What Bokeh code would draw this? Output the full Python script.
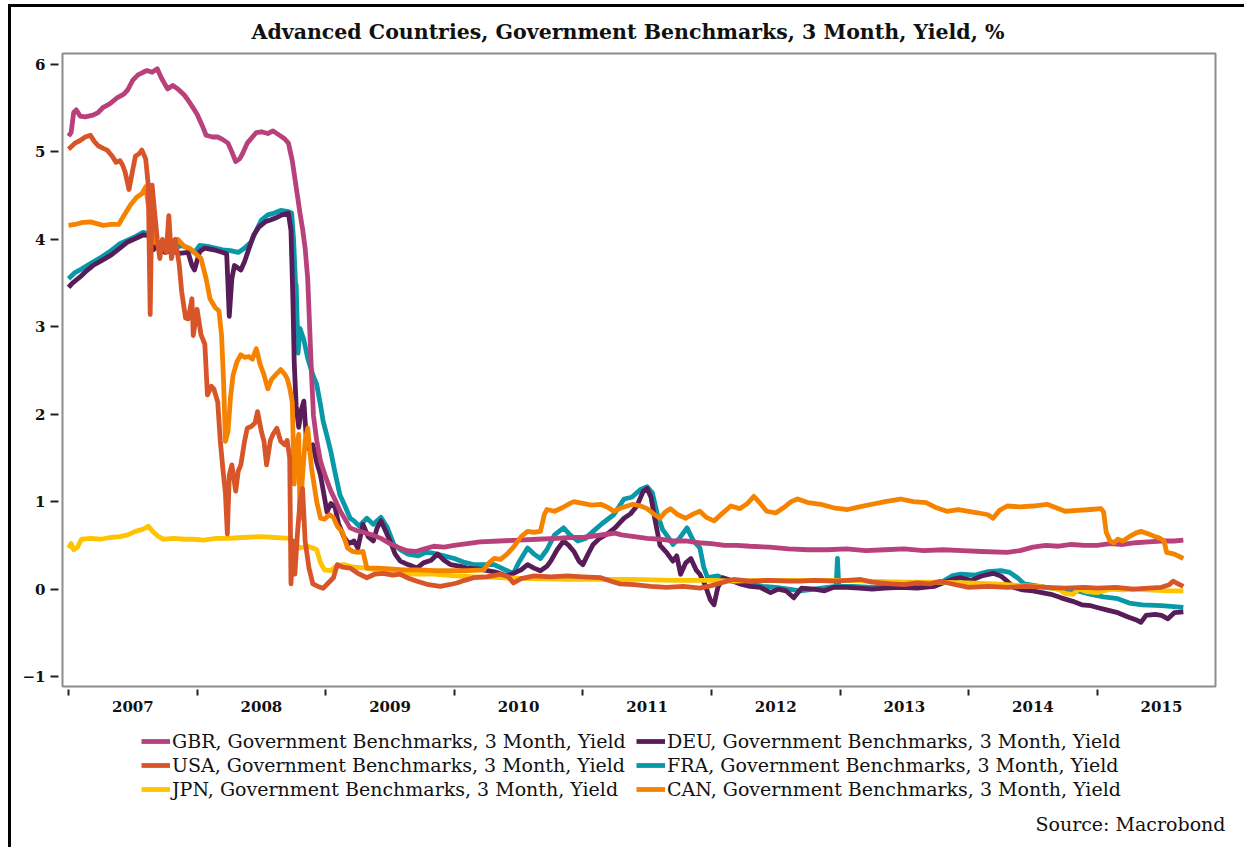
import numpy as np
from bokeh.plotting import figure
from bokeh.layouts import column
from bokeh.models import Range1d, FixedTicker, Legend, LegendItem, Label
from bokeh.embed import file_html
from bokeh.resources import INLINE

# ---------------- data (decimal years, yield %) ----------------
year_ticks = [2007, 2008, 2009, 2010, 2011, 2012, 2013, 2014, 2015]
year_labels = ["2007", "2008", "2009", "2010", "2011", "2012", "2013", "2014", "2015"]
y_ticks = [-1, 0, 1, 2, 3, 4, 5, 6]

gbr_t = [2007.00, 2007.02, 2007.04, 2007.06, 2007.09, 2007.13, 2007.19, 2007.23, 2007.27, 2007.32, 2007.38, 2007.43, 2007.46, 2007.50, 2007.54, 2007.58, 2007.61, 2007.65, 2007.69, 2007.72, 2007.77, 2007.81, 2007.85, 2007.90, 2007.93, 2007.97, 2008.00, 2008.04, 2008.07, 2008.12, 2008.16, 2008.20, 2008.24, 2008.27, 2008.30, 2008.33, 2008.35, 2008.39, 2008.43, 2008.46, 2008.50, 2008.55, 2008.59, 2008.63, 2008.68, 2008.71, 2008.74, 2008.76, 2008.78, 2008.80, 2008.82, 2008.84, 2008.86, 2008.875, 2008.89, 2008.905, 2008.93, 2008.96, 2009.00, 2009.04, 2009.08, 2009.11, 2009.15, 2009.19, 2009.24, 2009.29, 2009.36, 2009.43, 2009.50, 2009.56, 2009.63, 2009.70, 2009.77, 2009.84, 2009.92, 2010.00, 2010.10, 2010.20, 2010.35, 2010.50, 2010.65, 2010.80, 2010.90, 2011.00, 2011.10, 2011.20, 2011.25, 2011.30, 2011.40, 2011.50, 2011.60, 2011.70, 2011.80, 2011.90, 2012.00, 2012.10, 2012.20, 2012.30, 2012.45, 2012.60, 2012.75, 2012.90, 2013.05, 2013.20, 2013.35, 2013.50, 2013.65, 2013.80, 2013.95, 2014.10, 2014.30, 2014.40, 2014.50, 2014.60, 2014.70, 2014.80, 2014.90, 2015.00, 2015.10, 2015.20, 2015.30, 2015.40, 2015.50, 2015.60, 2015.67]
gbr_v = [5.18, 5.22, 5.45, 5.48, 5.41, 5.40, 5.42, 5.45, 5.51, 5.55, 5.62, 5.66, 5.71, 5.82, 5.88, 5.91, 5.93, 5.91, 5.95, 5.85, 5.72, 5.76, 5.72, 5.65, 5.59, 5.50, 5.43, 5.30, 5.19, 5.17, 5.17, 5.14, 5.10, 5.00, 4.89, 4.92, 4.97, 5.10, 5.17, 5.22, 5.23, 5.21, 5.24, 5.20, 5.15, 5.10, 4.90, 4.70, 4.50, 4.30, 4.12, 3.90, 3.55, 3.00, 2.45, 1.98, 1.70, 1.46, 1.28, 1.12, 1.00, 0.90, 0.80, 0.70, 0.67, 0.65, 0.62, 0.58, 0.52, 0.48, 0.44, 0.43, 0.46, 0.49, 0.48, 0.50, 0.52, 0.54, 0.55, 0.56, 0.57, 0.58, 0.59, 0.59, 0.61, 0.63, 0.64, 0.62, 0.60, 0.58, 0.57, 0.55, 0.55, 0.53, 0.52, 0.50, 0.50, 0.49, 0.48, 0.46, 0.45, 0.45, 0.46, 0.44, 0.45, 0.46, 0.44, 0.45, 0.44, 0.43, 0.42, 0.44, 0.48, 0.50, 0.49, 0.51, 0.50, 0.50, 0.52, 0.51, 0.53, 0.54, 0.55, 0.55, 0.56]

deu_t = [2007.00, 2007.03, 2007.09, 2007.14, 2007.19, 2007.26, 2007.33, 2007.40, 2007.46, 2007.52, 2007.58, 2007.63, 2007.66, 2007.69, 2007.75, 2007.80, 2007.86, 2007.93, 2007.96, 2007.98, 2008.02, 2008.06, 2008.13, 2008.20, 2008.23, 2008.25, 2008.27, 2008.29, 2008.34, 2008.37, 2008.40, 2008.44, 2008.48, 2008.53, 2008.57, 2008.62, 2008.66, 2008.71, 2008.73, 2008.745, 2008.755, 2008.77, 2008.79, 2008.81, 2008.83, 2008.85, 2008.87, 2008.90, 2008.93, 2008.96, 2008.99, 2009.01, 2009.04, 2009.07, 2009.10, 2009.14, 2009.18, 2009.22, 2009.25, 2009.29, 2009.33, 2009.37, 2009.40, 2009.43, 2009.47, 2009.50, 2009.54, 2009.58, 2009.64, 2009.71, 2009.76, 2009.82, 2009.87, 2009.92, 2009.97, 2010.05, 2010.10, 2010.18, 2010.26, 2010.33, 2010.41, 2010.46, 2010.52, 2010.57, 2010.62, 2010.67, 2010.72, 2010.75, 2010.80, 2010.85, 2010.89, 2010.93, 2010.97, 2011.00, 2011.04, 2011.08, 2011.13, 2011.19, 2011.25, 2011.32, 2011.37, 2011.42, 2011.47, 2011.50, 2011.53, 2011.56, 2011.60, 2011.65, 2011.70, 2011.73, 2011.76, 2011.80, 2011.84, 2011.88, 2011.91, 2011.95, 2011.99, 2012.02, 2012.05, 2012.09, 2012.15, 2012.22, 2012.30, 2012.38, 2012.46, 2012.52, 2012.58, 2012.64, 2012.70, 2012.80, 2012.88, 2012.95, 2013.05, 2013.15, 2013.25, 2013.35, 2013.47, 2013.60, 2013.73, 2013.80, 2013.87, 2013.94, 2014.02, 2014.10, 2014.19, 2014.25, 2014.30, 2014.35, 2014.42, 2014.50, 2014.57, 2014.64, 2014.72, 2014.81, 2014.88, 2014.95, 2015.00, 2015.08, 2015.16, 2015.24, 2015.30, 2015.34, 2015.38, 2015.45, 2015.50, 2015.55, 2015.60, 2015.67]
deu_v = [3.45, 3.50, 3.57, 3.64, 3.70, 3.76, 3.82, 3.90, 3.97, 4.01, 4.05, 4.04, 3.88, 3.92, 3.85, 3.87, 3.84, 3.85, 3.70, 3.65, 3.86, 3.90, 3.88, 3.85, 3.83, 3.12, 3.55, 3.70, 3.65, 3.75, 3.88, 4.05, 4.14, 4.20, 4.22, 4.25, 4.28, 4.30, 4.10, 3.30, 2.60, 2.10, 1.85, 2.05, 2.15, 1.70, 1.60, 1.65, 1.45, 1.30, 1.05, 0.88, 0.98, 0.95, 0.75, 0.60, 0.52, 0.55, 0.47, 0.74, 0.60, 0.55, 0.70, 0.78, 0.65, 0.55, 0.40, 0.32, 0.28, 0.24, 0.30, 0.33, 0.40, 0.33, 0.28, 0.26, 0.24, 0.23, 0.21, 0.19, 0.15, 0.18, 0.22, 0.28, 0.24, 0.21, 0.26, 0.32, 0.45, 0.55, 0.50, 0.43, 0.32, 0.28, 0.40, 0.51, 0.58, 0.63, 0.70, 0.81, 0.86, 0.95, 1.12, 1.15, 1.05, 0.80, 0.50, 0.42, 0.32, 0.38, 0.17, 0.30, 0.35, 0.22, 0.17, 0.05, -0.12, -0.18, 0.02, 0.13, 0.10, 0.06, 0.03, 0.02, -0.04, 0.00, -0.02, -0.10, 0.01, 0.00, -0.02, 0.02, 0.02, 0.01, 0.00, 0.01, 0.02, 0.01, 0.03, 0.07, 0.11, 0.13, 0.10, 0.15, 0.18, 0.15, 0.09, 0.02, -0.01, -0.02, -0.04, -0.06, -0.10, -0.14, -0.18, -0.19, -0.21, -0.24, -0.27, -0.32, -0.35, -0.38, -0.30, -0.29, -0.30, -0.34, -0.27, -0.26]

fra_t = [2007.00, 2007.05, 2007.10, 2007.19, 2007.26, 2007.33, 2007.40, 2007.46, 2007.52, 2007.58, 2007.63, 2007.68, 2007.75, 2007.82, 2007.88, 2007.93, 2007.98, 2008.02, 2008.08, 2008.14, 2008.20, 2008.26, 2008.32, 2008.37, 2008.42, 2008.46, 2008.50, 2008.55, 2008.60, 2008.65, 2008.70, 2008.735, 2008.75, 2008.765, 2008.77, 2008.785, 2008.80, 2008.83, 2008.86, 2008.90, 2008.93, 2008.96, 2008.98, 2009.01, 2009.04, 2009.07, 2009.11, 2009.15, 2009.19, 2009.22, 2009.26, 2009.32, 2009.37, 2009.43, 2009.48, 2009.53, 2009.58, 2009.64, 2009.72, 2009.78, 2009.84, 2009.92, 2010.00, 2010.07, 2010.15, 2010.23, 2010.31, 2010.38, 2010.46, 2010.50, 2010.57, 2010.62, 2010.67, 2010.72, 2010.78, 2010.85, 2010.90, 2010.96, 2011.02, 2011.08, 2011.15, 2011.24, 2011.32, 2011.38, 2011.45, 2011.50, 2011.54, 2011.58, 2011.62, 2011.66, 2011.70, 2011.75, 2011.81, 2011.86, 2011.91, 2011.94, 2011.97, 2012.05, 2012.12, 2012.20, 2012.30, 2012.40, 2012.50, 2012.60, 2012.69, 2012.80, 2012.90, 2012.97, 2012.98, 2012.99, 2013.10, 2013.25, 2013.40, 2013.55, 2013.70, 2013.80, 2013.87, 2013.94, 2014.05, 2014.15, 2014.25, 2014.32, 2014.38, 2014.43, 2014.55, 2014.70, 2014.85, 2014.95, 2015.05, 2015.16, 2015.25, 2015.35, 2015.50, 2015.67]
fra_v = [3.55, 3.62, 3.66, 3.74, 3.80, 3.87, 3.95, 3.99, 4.03, 4.08, 4.06, 3.95, 3.92, 3.90, 3.93, 3.90, 3.85, 3.93, 3.92, 3.90, 3.88, 3.87, 3.85, 3.90, 3.97, 4.10, 4.22, 4.28, 4.30, 4.33, 4.32, 4.30, 4.00, 3.50, 3.48, 2.70, 2.98, 2.85, 2.64, 2.45, 2.34, 2.10, 1.92, 1.75, 1.57, 1.35, 1.08, 0.95, 0.81, 0.78, 0.72, 0.81, 0.74, 0.82, 0.70, 0.51, 0.45, 0.40, 0.38, 0.42, 0.41, 0.38, 0.35, 0.31, 0.28, 0.28, 0.28, 0.23, 0.18, 0.30, 0.47, 0.40, 0.35, 0.45, 0.62, 0.70, 0.62, 0.55, 0.58, 0.66, 0.75, 0.85, 1.03, 1.05, 1.14, 1.17, 1.10, 0.85, 0.68, 0.60, 0.51, 0.58, 0.70, 0.55, 0.47, 0.25, 0.13, 0.15, 0.10, 0.08, 0.06, 0.03, 0.02, 0.00, -0.02, 0.00, 0.02, 0.03, 0.35, 0.03, 0.03, 0.02, 0.02, 0.04, 0.05, 0.09, 0.15, 0.17, 0.16, 0.20, 0.21, 0.19, 0.13, 0.06, 0.03, 0.00, -0.02, -0.06, -0.09, -0.11, -0.16, -0.18, -0.19, -0.21]

usa_t = [2007.00, 2007.05, 2007.09, 2007.13, 2007.17, 2007.20, 2007.23, 2007.27, 2007.30, 2007.34, 2007.37, 2007.40, 2007.42, 2007.44, 2007.47, 2007.50, 2007.52, 2007.55, 2007.57, 2007.60, 2007.62, 2007.635, 2007.65, 2007.67, 2007.69, 2007.71, 2007.73, 2007.76, 2007.78, 2007.80, 2007.83, 2007.86, 2007.88, 2007.91, 2007.93, 2007.96, 2007.97, 2008.00, 2008.03, 2008.06, 2008.08, 2008.11, 2008.13, 2008.16, 2008.18, 2008.20, 2008.22, 2008.235, 2008.25, 2008.27, 2008.30, 2008.32, 2008.34, 2008.37, 2008.39, 2008.42, 2008.45, 2008.47, 2008.50, 2008.52, 2008.54, 2008.57, 2008.59, 2008.62, 2008.65, 2008.68, 2008.70, 2008.72, 2008.73, 2008.745, 2008.76, 2008.78, 2008.80, 2008.82, 2008.84, 2008.87, 2008.90, 2008.94, 2008.98, 2009.02, 2009.06, 2009.09, 2009.13, 2009.19, 2009.25, 2009.32, 2009.38, 2009.45, 2009.52, 2009.58, 2009.65, 2009.71, 2009.80, 2009.89, 2009.96, 2010.02, 2010.08, 2010.15, 2010.25, 2010.36, 2010.42, 2010.46, 2010.52, 2010.62, 2010.75, 2010.88, 2011.00, 2011.14, 2011.22, 2011.29, 2011.40, 2011.53, 2011.65, 2011.78, 2011.91, 2012.00, 2012.12, 2012.17, 2012.30, 2012.45, 2012.60, 2012.69, 2012.80, 2012.95, 2013.06, 2013.16, 2013.25, 2013.40, 2013.50, 2013.60, 2013.70, 2013.78, 2013.90, 2014.00, 2014.15, 2014.30, 2014.45, 2014.60, 2014.75, 2014.90, 2015.00, 2015.15, 2015.28, 2015.40, 2015.50, 2015.56, 2015.59, 2015.63, 2015.67]
usa_v = [5.03, 5.10, 5.13, 5.17, 5.19, 5.12, 5.07, 5.04, 5.02, 4.95, 4.88, 4.90, 4.85, 4.77, 4.57, 4.80, 4.95, 4.98, 5.02, 4.92, 4.62, 3.14, 4.62, 4.30, 4.00, 3.78, 4.00, 3.85, 4.27, 3.78, 4.00, 3.72, 3.40, 3.10, 3.09, 3.32, 2.90, 3.20, 2.91, 2.80, 2.22, 2.32, 2.29, 2.14, 1.70, 1.38, 1.10, 0.63, 1.30, 1.42, 1.12, 1.35, 1.42, 1.70, 1.84, 1.86, 1.90, 2.03, 1.80, 1.69, 1.42, 1.70, 1.77, 1.84, 1.69, 1.65, 1.70, 1.50, 0.06, 0.55, 0.17, 0.63, 1.00, 1.15, 0.55, 0.24, 0.06, 0.03, 0.01, 0.07, 0.13, 0.28, 0.25, 0.24, 0.18, 0.13, 0.17, 0.18, 0.16, 0.17, 0.12, 0.09, 0.05, 0.03, 0.05, 0.07, 0.10, 0.13, 0.14, 0.17, 0.14, 0.07, 0.12, 0.15, 0.14, 0.15, 0.14, 0.13, 0.09, 0.06, 0.05, 0.03, 0.02, 0.03, 0.01, 0.04, 0.09, 0.11, 0.09, 0.10, 0.09, 0.09, 0.10, 0.09, 0.10, 0.11, 0.08, 0.06, 0.05, 0.07, 0.06, 0.09, 0.05, 0.02, 0.03, 0.02, 0.03, 0.02, 0.01, 0.02, 0.01, 0.02, 0.00, 0.01, 0.02, 0.05, 0.09, 0.06, 0.03]

jpn_t = [2007.00, 2007.02, 2007.04, 2007.07, 2007.10, 2007.17, 2007.25, 2007.32, 2007.40, 2007.46, 2007.52, 2007.57, 2007.60, 2007.62, 2007.66, 2007.70, 2007.74, 2007.82, 2007.90, 2007.97, 2008.05, 2008.15, 2008.24, 2008.35, 2008.49, 2008.60, 2008.72, 2008.76, 2008.80, 2008.86, 2008.90, 2008.93, 2008.96, 2008.99, 2009.04, 2009.09, 2009.14, 2009.22, 2009.32, 2009.45, 2009.58, 2009.70, 2009.84, 2010.00, 2010.18, 2010.36, 2010.60, 2010.88, 2011.10, 2011.39, 2011.70, 2012.00, 2012.17, 2012.40, 2012.70, 2013.00, 2013.21, 2013.50, 2013.75, 2013.99, 2014.20, 2014.40, 2014.55, 2014.70, 2014.75, 2014.81, 2014.86, 2014.92, 2015.00, 2015.10, 2015.20, 2015.28, 2015.40, 2015.55, 2015.67]
jpn_v = [0.47, 0.52, 0.45, 0.48, 0.57, 0.58, 0.57, 0.59, 0.60, 0.62, 0.66, 0.68, 0.70, 0.72, 0.65, 0.60, 0.57, 0.58, 0.57, 0.57, 0.56, 0.58, 0.58, 0.59, 0.60, 0.59, 0.58, 0.52, 0.47, 0.49, 0.47, 0.45, 0.30, 0.22, 0.21, 0.27, 0.28, 0.25, 0.24, 0.20, 0.18, 0.17, 0.17, 0.15, 0.14, 0.13, 0.12, 0.11, 0.11, 0.11, 0.10, 0.10, 0.09, 0.10, 0.10, 0.10, 0.09, 0.08, 0.08, 0.07, 0.06, 0.04, 0.03, 0.00, -0.05, -0.06, 0.00, -0.03, -0.04, 0.00, -0.01, 0.00, -0.01, -0.02, -0.02]

can_t = [2007.00, 2007.05, 2007.10, 2007.17, 2007.22, 2007.27, 2007.33, 2007.39, 2007.43, 2007.48, 2007.53, 2007.57, 2007.60, 2007.62, 2007.64, 2007.66, 2007.70, 2007.75, 2007.80, 2007.85, 2007.90, 2007.95, 2008.00, 2008.03, 2008.07, 2008.10, 2008.14, 2008.17, 2008.19, 2008.205, 2008.22, 2008.24, 2008.26, 2008.28, 2008.31, 2008.34, 2008.37, 2008.40, 2008.43, 2008.46, 2008.49, 2008.52, 2008.55, 2008.58, 2008.61, 2008.65, 2008.68, 2008.70, 2008.72, 2008.74, 2008.755, 2008.77, 2008.79, 2008.80, 2008.82, 2008.84, 2008.86, 2008.89, 2008.93, 2008.96, 2008.99, 2009.03, 2009.06, 2009.09, 2009.13, 2009.17, 2009.21, 2009.25, 2009.29, 2009.32, 2009.40, 2009.50, 2009.60, 2009.71, 2009.85, 2009.97, 2010.10, 2010.23, 2010.27, 2010.31, 2010.36, 2010.41, 2010.46, 2010.52, 2010.57, 2010.62, 2010.67, 2010.70, 2010.72, 2010.78, 2010.84, 2010.90, 2010.93, 2011.00, 2011.07, 2011.14, 2011.20, 2011.24, 2011.30, 2011.39, 2011.45, 2011.50, 2011.55, 2011.60, 2011.64, 2011.68, 2011.74, 2011.80, 2011.86, 2011.91, 2011.96, 2012.02, 2012.08, 2012.15, 2012.22, 2012.28, 2012.33, 2012.38, 2012.43, 2012.50, 2012.56, 2012.62, 2012.67, 2012.75, 2012.85, 2012.95, 2013.06, 2013.15, 2013.25, 2013.35, 2013.47, 2013.57, 2013.67, 2013.75, 2013.83, 2013.92, 2014.00, 2014.08, 2014.15, 2014.19, 2014.24, 2014.30, 2014.40, 2014.50, 2014.61, 2014.68, 2014.75, 2014.85, 2014.95, 2015.03, 2015.05, 2015.07, 2015.10, 2015.13, 2015.16, 2015.20, 2015.25, 2015.30, 2015.34, 2015.40, 2015.45, 2015.49, 2015.52, 2015.54, 2015.60, 2015.67]
can_v = [4.16, 4.17, 4.19, 4.20, 4.18, 4.16, 4.17, 4.17, 4.27, 4.39, 4.48, 4.52, 4.60, 4.40, 4.34, 3.97, 3.95, 3.93, 3.98, 4.00, 3.92, 3.89, 3.82, 3.78, 3.55, 3.32, 3.22, 3.18, 2.90, 2.40, 1.69, 1.80, 2.20, 2.45, 2.60, 2.68, 2.65, 2.66, 2.63, 2.75, 2.57, 2.45, 2.29, 2.40, 2.45, 2.51, 2.46, 2.41, 2.30, 2.14, 1.20, 1.60, 1.77, 0.81, 1.30, 1.70, 1.84, 1.38, 1.00, 0.81, 0.80, 0.85, 0.82, 0.72, 0.65, 0.47, 0.43, 0.42, 0.43, 0.24, 0.24, 0.23, 0.22, 0.22, 0.21, 0.21, 0.21, 0.22, 0.30, 0.35, 0.34, 0.40, 0.48, 0.60, 0.66, 0.65, 0.66, 0.85, 0.91, 0.89, 0.93, 0.98, 1.00, 0.98, 0.96, 0.97, 0.93, 0.89, 0.93, 0.97, 0.95, 0.92, 0.86, 0.81, 0.88, 0.92, 0.85, 0.81, 0.86, 0.89, 0.82, 0.78, 0.86, 0.95, 0.92, 0.98, 1.06, 0.98, 0.89, 0.87, 0.93, 1.00, 1.03, 0.99, 0.97, 0.93, 0.91, 0.94, 0.97, 1.00, 1.03, 1.00, 0.99, 0.93, 0.89, 0.91, 0.89, 0.87, 0.85, 0.81, 0.90, 0.95, 0.94, 0.95, 0.97, 0.93, 0.89, 0.90, 0.91, 0.92, 0.88, 0.65, 0.55, 0.53, 0.57, 0.55, 0.60, 0.64, 0.66, 0.63, 0.60, 0.58, 0.55, 0.42, 0.40, 0.35]

series_names = [
    "GBR, Government Benchmarks, 3 Month, Yield",
    "DEU, Government Benchmarks, 3 Month, Yield",
    "USA, Government Benchmarks, 3 Month, Yield",
    "FRA, Government Benchmarks, 3 Month, Yield",
    "JPN, Government Benchmarks, 3 Month, Yield",
    "CAN, Government Benchmarks, 3 Month, Yield",
]
source_text = "Source: Macrobond"
colors = {"GBR": "#b8417c", "DEU": "#581d58", "USA": "#d8552a",
          "FRA": "#0898a8", "JPN": "#ffc400", "CAN": "#f68300"}

SERIF = "DejaVu Serif"
LW = 4.8

# ---------------- layout (page px) ----------------
# page: black left rule x 8..11, top rule y 4..7 ; canvas starts at (11, 7)
CX, CY = 11, 7
W = 1247 - CX
H1 = 726 - CY            # main chart canvas ends at page y 726
H2 = 850 - 726           # legend / source strip
ML, MT = 62 - CX, 51 - CY
MR = 1247 - 1215
MB = H1 - (686 - CY)

p = figure(width=W, height=H1, output_backend="svg", toolbar_location=None,
           x_range=Range1d(2006.953, 2015.92), y_range=Range1d(-1.114, 6.125),
           min_border_left=ML, min_border_right=MR, min_border_top=MT,
           min_border_bottom=MB, background_fill_color="white",
           border_fill_color="white",
           styles={"border-left": "3px solid black", "border-top": "3px solid black",
                   "margin-left": "8px", "margin-top": "4px"})

p.title.text = "Advanced Countries, Government Benchmarks, 3 Month, Yield, %"
p.title.align = "left"
p.title.offset = 251 - 62
p.title.text_font = SERIF
p.title.text_font_size = "20.5px"
p.title.text_font_style = "bold"
p.title.text_color = "#111111"
p.title.standoff = 20

p.outline_line_color = "#8c8c8c"
p.outline_line_width = 2
p.xgrid.visible = False
p.ygrid.visible = False

# x axis: labels at mid-year, ticks at year boundaries
xax = p.xaxis[0]
xax.ticker = FixedTicker(ticks=[y + 0.5 for y in year_ticks], minor_ticks=year_ticks)
xax.major_label_overrides = {y + 0.5: lab for y, lab in zip(year_ticks, year_labels)}
xax.axis_line_color = None
xax.major_tick_line_color = None
xax.major_tick_in = 0
xax.major_tick_out = 0
xax.minor_tick_line_color = "#222222"
xax.minor_tick_line_width = 2
xax.minor_tick_in = -3
xax.minor_tick_out = 9
xax.major_label_standoff = 5
xax.major_label_text_font = SERIF
xax.major_label_text_font_size = "15px"
xax.major_label_text_font_style = "bold"
xax.major_label_text_color = "#111111"

yax = p.yaxis[0]
yax.ticker = FixedTicker(ticks=y_ticks, minor_ticks=[])
yax.axis_line_color = None
yax.major_tick_line_color = "#222222"
yax.major_tick_line_width = 2
yax.major_tick_in = -4
yax.major_tick_out = 12
yax.minor_tick_line_color = None
yax.major_label_standoff = 5
yax.major_label_text_font = SERIF
yax.major_label_text_font_size = "15px"
yax.major_label_text_font_style = "bold"
yax.major_label_text_color = "#111111"

data = {"GBR": (gbr_t, gbr_v), "DEU": (deu_t, deu_v), "USA": (usa_t, usa_v),
        "FRA": (fra_t, fra_v), "JPN": (jpn_t, jpn_v), "CAN": (can_t, can_v)}

for key in ["FRA", "DEU", "JPN", "GBR", "CAN", "USA"]:
    t, v = data[key]
    p.line(t, v, line_color=colors[key], line_width=LW, line_join="round")

# ---------------- legend + source strip ----------------
q = figure(width=W, height=H2, output_backend="svg", toolbar_location=None,
           x_axis_type=None, y_axis_type=None,
           min_border_left=0, min_border_right=0, min_border_top=0, min_border_bottom=0,
           background_fill_color="white", border_fill_color="white",
           outline_line_color=None,
           styles={"border-left": "3px solid black", "margin-left": "8px"})
q.xgrid.visible = False
q.ygrid.visible = False

# keep the strip's frame independent from the chart's frame when possible
try:
    q.frame_align = False
    p.frame_align = False
    fl, fr = CX, 1247
except Exception:
    fl, fr = 62, 1215
q.x_range = Range1d(fl, fr)
q.y_range = Range1d(850, 726)

# legend swatch renderers: the same series, lying outside the strip's visible range
swatch = {}
for key in colors:
    t, v = data[key]
    swatch[key] = q.line(t, v, line_color=colors[key], line_width=LW)

def make_legend(names, x_left):
    items = [LegendItem(label=n, renderers=[swatch[n[:3]]]) for n in names]
    # location: screen px from the strip frame's bottom-left corner
    return Legend(items=items, orientation="vertical", location=(x_left - fl, 850 - 803),
                  label_text_font=SERIF, label_text_font_size="19px",
                  label_text_color="#111111", glyph_width=29, glyph_height=20,
                  label_height=22, label_standoff=2, spacing=2, padding=0, margin=0,
                  border_line_color=None, background_fill_alpha=0)

q.add_layout(make_legend(series_names[0::2], 141))
q.add_layout(make_legend(series_names[1::2], 636))

q.add_layout(Label(x=1225, y=826, text=source_text, text_align="right",
                   text_baseline="middle", text_font=SERIF, text_font_size="19px",
                   text_color="#111111"))

layout = column(p, q, spacing=0)
open("out.html", "w").write(file_html(layout, INLINE))
